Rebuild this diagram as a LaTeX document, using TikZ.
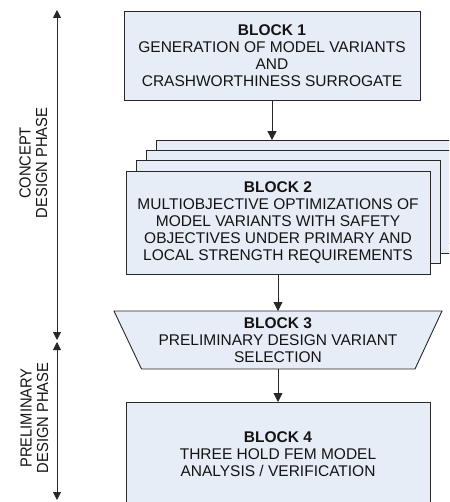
\documentclass[tikz,border=0pt]{standalone}
\usepackage{fontspec}
\setmainfont{Liberation Sans}
\usepackage{graphicx}
\usetikzlibrary{arrows.meta,positioning}
\definecolor{boxfill}{RGB}{231,237,246}
\definecolor{boxline}{RGB}{40,40,40}
\tikzset{
  blockbox/.style={draw=boxline,fill=boxfill,line width=0.9pt,inner sep=0pt,outer sep=0pt,
    align=center,text=black!92,font=\fontsize{15.5}{17}\selectfont},
  sheet/.style={draw=boxline,fill=boxfill,line width=0.9pt,inner sep=0pt,outer sep=0pt,
    minimum width=304pt,minimum height=103pt},
  phaselabel/.style={rotate=90,text=black!92,inner sep=0pt},
  flow/.style={draw=boxline,line width=0.9pt,-{Triangle[length=9pt,width=9pt]}},
  phase/.style={draw=boxline,line width=0.9pt,{Triangle[length=8pt,width=8pt]}-{Triangle[length=8pt,width=8pt]}}
}
\newcommand{\phasetext}[2]{\fontsize{16}{16.5}\selectfont\scalebox{0.92}[1]{\begin{tabular}{@{}c@{}}#1\\#2\end{tabular}}}
\begin{document}
\begin{tikzpicture}[x=1pt,y=-1pt]
\useasboundingbox (0,0) rectangle (449,502);
\clip (0,0) rectangle (449,502);
% phases
\coordinate (c1) at (57,10);
\coordinate (c2) at (57,340);
\coordinate (p1) at (57,342);
\coordinate (p2) at (57,500);
\draw[phase] (c1)--(c2);
\draw[phase] (p1)--(p2);
\node[phaselabel] (concept) at (35.5,163) {\phasetext{CONCEPT}{DESIGN PHASE}};
\node[phaselabel] (prelim) at (36.5,418) {\phasetext{PRELIMINARY}{DESIGN PHASE}};
% blocks
\node[blockbox,minimum width=296pt,minimum height=89pt] (b1) at (272,55.5)
  {\textbf{BLOCK 1}\\GENERATION OF MODEL VARIANTS\\AND\\CRASHWORTHINESS SURROGATE};
\foreach \k in {3,2,1}
  \node[sheet] (sh\k) at (278+\k*10.3,222.5-\k*10.3) {};
\node[blockbox,minimum width=304pt,minimum height=103pt] (b2) at (278,222.5)
  {\textbf{BLOCK 2}\\MULTIOBJECTIVE OPTIMIZATIONS OF\\MODEL VARIANTS WITH SAFETY\\OBJECTIVES UNDER PRIMARY AND\\LOCAL STRENGTH REQUIREMENTS};
\fill[boxfill] (114,311)--(442,311)--(415,369)--(141.5,369)--cycle;
\draw[boxline,line width=0.9pt] (114,311)--(442,311)--(415,369)--(141.5,369)--cycle;
\node[blockbox,draw=none,fill=none,minimum width=273pt,minimum height=58pt] (b3) at (278,340)
  {\textbf{BLOCK 3}\\PRELIMINARY DESIGN VARIANT\\SELECTION};
\node[blockbox,minimum width=304pt,minimum height=104pt] (b4) at (278,454)
  {\textbf{BLOCK 4}\\THREE HOLD FEM MODEL\\ANALYSIS / VERIFICATION};
% connectors
\draw[flow] (b1.south)--(b1.south |- sh3.north);
\draw[flow] (b2.south)--(b3.north);
\draw[flow] (b3.south)--(b4.north);
\end{tikzpicture}
\end{document}
